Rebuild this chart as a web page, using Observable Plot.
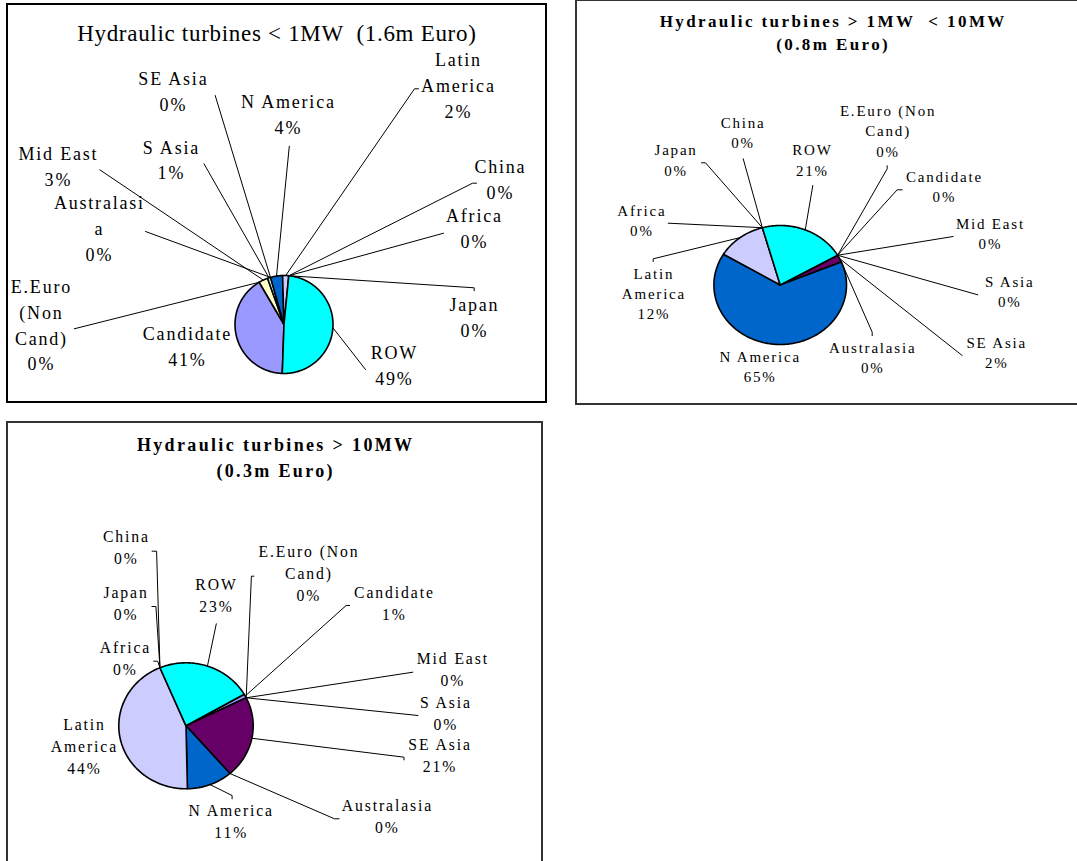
<!DOCTYPE html>
<html>
<head>
<meta charset="utf-8">
<script src="https://cdn.jsdelivr.net/npm/d3@7"></script>
<script src="https://cdn.jsdelivr.net/npm/@observablehq/plot@0.6"></script>
<style>
  html, body { margin: 0; padding: 0; background: #fff; }
  body { width: 1077px; height: 861px; position: relative; overflow: hidden;
         font-family: "Liberation Serif", "Times New Roman", serif; color: #000; }
  .panel { position: absolute; box-sizing: border-box; background: #fff; }
  .title { text-align: center; white-space: pre; box-sizing: border-box; }
  .panel svg { display: block; overflow: visible; }
</style>
</head>
<body>
<script>
// ---- Market shares by region (%), one array per turbine size class ----
const regions = ["Candidate", "E.Euro (Non Cand)", "Mid East", "S Asia", "SE Asia", "Australasia",
                 "N America", "Latin America", "Africa", "Japan", "China", "ROW"];
const sharesUnder1MW  = [41, 0, 3, 1, 0, 0, 4, 2, 0, 0, 0, 49];
const shares1To10MW   = [0, 0, 0, 0, 2, 0, 65, 12, 0, 0, 0, 21];
const sharesOver10MW  = [1, 0, 0, 0, 21, 0, 11, 44, 0, 0, 0, 23];

const titleUnder1MW = ["Hydraulic turbines < 1MW  (1.6m Euro)"];
const title1To10MW  = ["Hydraulic turbines > 1MW  < 10MW", "(0.8m Euro)"];
const titleOver10MW = ["Hydraulic turbines > 10MW", "(0.3m Euro)"];

// Slice fills, one per region (spreadsheet default palette order)
const sliceColors = ["#9999FF", "#993366", "#FFFFCC", "#CCFFFF", "#660066", "#FF8080",
                     "#0066CC", "#CCCCFF", "#000080", "#FF00FF", "#FFFF00", "#00FFFF"];

// ---- Label placement (page pixels): first-line centre, leader end, optional end tick ----
const labelsUnder1MW = [
  {region: "SE Asia", lines: ["SE Asia"], at: [172, 79], end: [214.7, 95]},
  {region: "N America", lines: ["N America"], at: [287, 102], end: [288.8, 145.7]},
  {region: "Latin America", lines: ["Latin", "America"], at: [457, 60], end: [414, 88.3], tick: [4, 0]},
  {region: "Mid East", lines: ["Mid East"], at: [57, 154], end: [99.3, 169.3]},
  {region: "S Asia", lines: ["S Asia"], at: [170, 147.3], end: [203.5, 163.3]},
  {region: "China", lines: ["China"], at: [499, 166.7], end: [472, 182.7], tick: [4, 0]},
  {region: "Australasia", lines: ["Australasi", "a"], at: [98, 203], end: [145, 231]},
  {region: "Africa", lines: ["Africa"], at: [473, 216], end: [443, 232.7]},
  {region: "E.Euro (Non Cand)", lines: ["E.Euro", "(Non", "Cand)"], at: [40, 286.7], end: [73.7, 328.3]},
  {region: "Japan", lines: ["Japan"], at: [473, 305], end: [473.7, 287.3], tick: [0, 3]},
  {region: "Candidate", lines: ["Candidate"], at: [186, 334]},
  {region: "ROW", lines: ["ROW"], at: [393, 353], end: [365, 369]}
];
const labels1To10MW = [
  {region: "China", lines: ["China"], at: [741.7, 122.7], end: [742.7, 158.3]},
  {region: "Japan", lines: ["Japan"], at: [674.7, 150], end: [705, 162.3], tick: [-4, 0]},
  {region: "ROW", lines: ["ROW"], at: [811, 150], end: [812.3, 185]},
  {region: "E.Euro (Non Cand)", lines: ["E.Euro (Non", "Cand)"], at: [886.7, 110.7], end: [886.7, 168.3], tick: [0, -3]},
  {region: "Candidate", lines: ["Candidate"], at: [943, 176.7], end: [896.7, 189.3], tick: [5, 0]},
  {region: "Mid East", lines: ["Mid East"], at: [989, 223.3], end: [952.7, 236]},
  {region: "S Asia", lines: ["S Asia"], at: [1008.3, 281.7], end: [977.3, 294.3]},
  {region: "SE Asia", lines: ["SE Asia"], at: [995.3, 342.3], end: [961.7, 355]},
  {region: "Australasia", lines: ["Australasia"], at: [871.3, 347.7], end: [871.7, 331.7], tick: [0, 3.5]},
  {region: "N America", lines: ["N America"], at: [758.8, 356.7]},
  {region: "Latin America", lines: ["Latin", "America"], at: [652.5, 273.3], end: [652.7, 258.3], tick: [0, 2.7]},
  {region: "Africa", lines: ["Africa"], at: [640.5, 210.7], end: [667.7, 222.7]}
];
const labelsOver10MW = [
  {region: "China", lines: ["China"], at: [125, 536.7], end: [156.1, 550.7], tick: [-4.5, 0]},
  {region: "Japan", lines: ["Japan"], at: [124.6, 592.7], end: [155.4, 606], tick: [-4, 0]},
  {region: "Africa", lines: ["Africa"], at: [124, 647.3], end: [157.2, 660.7], tick: [-4, 0]},
  {region: "ROW", lines: ["ROW"], at: [215, 584], end: [215.8, 623.3]},
  {region: "E.Euro (Non Cand)", lines: ["E.Euro (Non", "Cand)"], at: [307.5, 551.7], end: [250.9, 575.7], tick: [2.5, 0]},
  {region: "Candidate", lines: ["Candidate"], at: [393, 592.7], end: [345.6, 605], tick: [3.5, 0]},
  {region: "Mid East", lines: ["Mid East"], at: [451.4, 658.3], end: [412.3, 671.7]},
  {region: "S Asia", lines: ["S Asia"], at: [444.4, 702.3], end: [417.5, 715]},
  {region: "SE Asia", lines: ["SE Asia"], at: [438.6, 744.3], end: [403.5, 756.7], tick: [0, 2.7]},
  {region: "Australasia", lines: ["Australasia"], at: [386, 805], end: [334, 818.3], tick: [4.6, 0]},
  {region: "N America", lines: ["N America"], at: [229.8, 810], end: [231.6, 795], tick: [0, 3.3]},
  {region: "Latin America", lines: ["Latin", "America"], at: [83, 724.3]}
];

// ---- Panel frames, title and label typography, pie geometry ----
const panels = [
  {
    values: sharesUnder1MW, title: titleUnder1MW, labels: labelsUnder1MW,
    box: {left: 6, top: 3, width: 541, height: 400, border: 2, color: "#000"},
    head: {height: 50, padTop: 14.7, size: 23, weight: 400, spacing: 0.7, lineHeight: 28},
    text: {size: 18, spacing: 1.8, lineGap: 25.8},
    pie: {cx: 283.5, cy: 324, rx: 49, ry: 49, start: 182}
  },
  {
    values: shares1To10MW, title: title1To10MW, labels: labels1To10MW,
    box: {left: 575, top: -1, width: 514, height: 406, border: 2, color: "#333"},
    head: {height: 60, padTop: 8.9, size: 17, weight: 700, spacing: 2.4, lineHeight: 23.3},
    text: {size: 15, spacing: 1.8, lineGap: 20.3},
    pie: {cx: 779.7, cy: 284.5, rx: 66.3, ry: 59.5, start: 60}
  },
  {
    values: sharesOver10MW, title: titleOver10MW, labels: labelsOver10MW,
    box: {left: 6, top: 421, width: 537, height: 450, border: 2, color: "#333"},
    head: {height: 60, padTop: 8.7, size: 18, weight: 700, spacing: 2.35, lineHeight: 26.5},
    text: {size: 15.7, spacing: 1.9, lineGap: 22},
    pie: {cx: 185.5, cy: 725.3, rx: 67.2, ry: 63, start: 60}
  }
];

const FONT = "Liberation Serif, Times New Roman, serif";
const rad = (deg) => deg * Math.PI / 180;

function drawPanel(p) {
  const {box, head, text, pie} = p;
  const panel = document.createElement("div");
  panel.className = "panel";
  Object.assign(panel.style, {
    left: box.left + "px", top: box.top + "px", width: box.width + "px", height: box.height + "px",
    border: `${box.border}px solid ${box.color}`
  });

  const title = document.createElement("div");
  title.className = "title";
  Object.assign(title.style, {
    height: head.height + "px", paddingTop: head.padTop + "px", paddingLeft: head.spacing + "px",
    fontSize: head.size + "px", fontWeight: head.weight, letterSpacing: head.spacing + "px",
    lineHeight: head.lineHeight + "px"
  });
  title.textContent = p.title.join("\n");
  panel.appendChild(title);

  // The SVG's scales map page pixels onto its own pixels
  const x0 = box.left + box.border;
  const y0 = box.top + box.border + head.height;
  const W = box.width - 2 * box.border;
  const H = box.height - 2 * box.border - head.height;

  const rows = regions.map((region, i) => ({region, value: p.values[i], color: sliceColors[i]}));
  const arcs = d3.pie().sort(null).value((d) => d.value)
    .startAngle(rad(pie.start)).endAngle(rad(pie.start) + 2 * Math.PI)(rows);
  const onRim = (a) => ({x: pie.cx + pie.rx * Math.sin(a), y: pie.cy - pie.ry * Math.cos(a)});

  // Slice outlines: centre, arc, back to centre
  const sliceMarks = arcs.filter((a) => a.data.value > 0).map((a) => {
    const steps = Math.max(2, Math.ceil((a.endAngle - a.startAngle) / rad(1)));
    const pts = [{x: pie.cx, y: pie.cy}];
    for (let i = 0; i <= steps; i++) pts.push(onRim(a.startAngle + (a.endAngle - a.startAngle) * i / steps));
    pts.push({x: pie.cx, y: pie.cy});
    return Plot.line(pts, {x: "x", y: "y", fill: a.data.color, stroke: "#000", strokeWidth: 1.6,
                           strokeLinejoin: "round"});
  });

  // Leader lines run from the slice's rim midpoint to the label
  const arcBy = new Map(arcs.map((a) => [a.data.region, a]));
  const leaderPts = [];
  const textRows = [];
  for (const L of p.labels) {
    const a = arcBy.get(L.region);
    if (L.end) {
      const rim = onRim((a.startAngle + a.endAngle) / 2);
      leaderPts.push({region: L.region, ...rim});
      leaderPts.push({region: L.region, x: L.end[0], y: L.end[1]});
      if (L.tick) leaderPts.push({region: L.region, x: L.end[0] + L.tick[0], y: L.end[1] + L.tick[1]});
    }
    const lines = [...L.lines, `${a.data.value}%`];
    lines.forEach((t, i) => textRows.push({
      text: t, x: L.at[0], y: L.at[1] + 0.3275 * text.size + i * text.lineGap
    }));
  }

  const chart = Plot.plot({
    width: W, height: H, margin: 0,
    x: {type: "linear", domain: [x0, x0 + W], range: [0, W], axis: null},
    y: {type: "linear", domain: [y0, y0 + H], range: [0, H], axis: null},
    style: `background: transparent; overflow: visible; font-family: ${FONT}; letter-spacing: ${text.spacing}px;`,
    marks: [
      ...sliceMarks,
      Plot.line(leaderPts, {x: "x", y: "y", z: "region", stroke: "#000", strokeWidth: 1}),
      Plot.text(textRows, {x: "x", y: "y", text: "text", textAnchor: "middle", lineAnchor: "bottom",
                           dx: text.spacing / 2, fontSize: text.size, fontFamily: FONT, fill: "#000"})
    ]
  });
  panel.appendChild(chart);
  document.body.appendChild(panel);
}

panels.forEach(drawPanel);
</script>
</body>
</html>
